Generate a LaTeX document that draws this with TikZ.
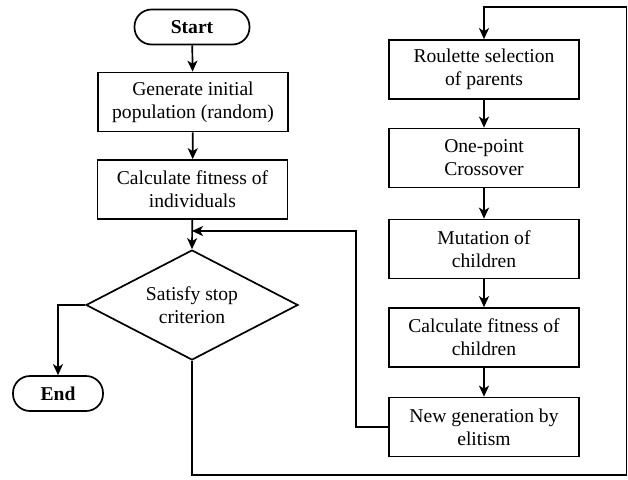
\documentclass[tikz,border=0pt]{standalone}
\usepackage{fontspec}
\setmainfont{Liberation Serif}
\usetikzlibrary{shapes.geometric,arrows.meta}
\begin{document}
\begin{tikzpicture}[x=1pt,y=-1pt,
  line width=1.7pt,
  every node/.style={font=\fontsize{19.6}{23}\selectfont, align=center},
  procbox/.style={draw, rectangle, minimum width=190pt, minimum height=59pt, inner sep=0pt},
  term/.style={draw, rounded corners=17pt, minimum height=35pt, inner sep=0pt, font=\fontsize{19.6}{23}\selectfont\bfseries},
  arr/.style={-{Stealth[length=11pt,width=10pt,inset=3pt]}}]
\useasboundingbox (0,0) rectangle (628,479);
\node[term, minimum width=115pt] (start) at (192,27) {Start};
\node[procbox] (gen) at (193,102) {Generate initial\\population (random)};
\node[procbox] (fit) at (192.5,189.5) {Calculate fitness of\\individuals};
\node[draw, diamond, aspect=1.93, minimum width=212pt, minimum height=110pt, inner sep=0pt] (dia) at (192,305) {Satisfy stop\\criterion};
\node[term, minimum width=90pt] (end) at (58,393.5) {End};
\node[procbox] (rou) at (484,69.5) {Roulette selection\\of parents};
\node[procbox] (cro) at (484,158) {One-point\\Crossover};
\node[procbox] (mut) at (484,249) {Mutation of\\children};
\node[procbox] (cfc) at (484,337.5) {Calculate fitness of\\children};
\node[procbox] (new) at (484,427) {New generation by\\elitism};
\coordinate (j) at (192,231);
\draw[arr] (start) -- (gen);
\draw[arr] (gen) -- (fit);
\draw[arr] (fit) -- (dia.north);
\draw[arr] (dia.west) -| (end.north);
\draw[arr] (dia.south) |- (626.5,475) |- (484,7) -- (rou.north);
\draw[arr] (rou) -- (cro);
\draw[arr] (cro) -- (mut);
\draw[arr] (mut) -- (cfc);
\draw[arr] (cfc) -- (new);
\draw[arr] (new.west) -| (356,231) -- (j);
\end{tikzpicture}
\end{document}
